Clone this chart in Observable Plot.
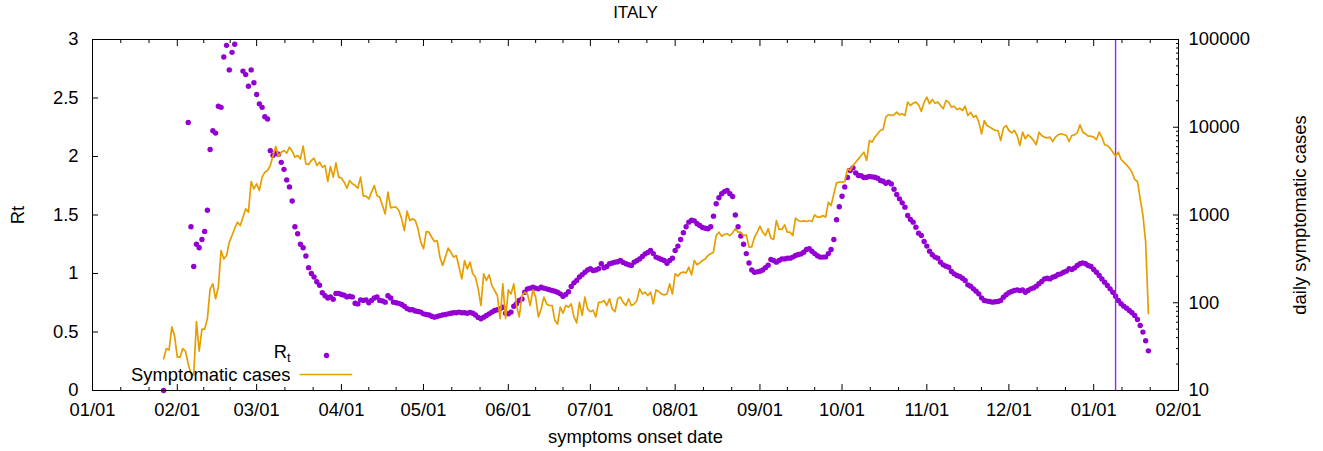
<!DOCTYPE html>
<html><head><meta charset="utf-8">
<script src="https://cdn.jsdelivr.net/npm/d3@7"></script>
<script src="https://cdn.jsdelivr.net/npm/@observablehq/plot@0.6"></script>
<style>
html,body{margin:0;padding:0;background:#fff;}
#chart svg{display:block;}
</style></head><body><div id="chart"></div>
<script>
const chartTitle = "ITALY";
const xLabel = "symptoms onset date";
const yLeftLabel = "Rt";
const yRightLabel = "daily symptomatic cases";
const legendRt = "R_t";
const legendCases = "Symptomatic cases";
const xDomain = ["2020-01-01", "2021-02-01"];
const leftTicks = [0, 0.5, 1, 1.5, 2, 2.5, 3];
const rightTicks = [10, 100, 1000, 10000, 100000];
const markerDates = ["2021-01-09"];

// Rt, one value per day starting 2020-01-27 (null = not shown)
const rtStart = "2020-01-27";
const rtValues = [
  0, null, null, null, null, null, null, null, null, 2.29,
  1.40, 1.06, 1.25, 1.22, 1.29, 1.36, 1.54, 2.06, 2.22, 2.20,
  2.43, 2.42, 2.85, 2.95, 2.74, 2.89, 2.96, null, null, 2.73,
  2.70, 2.60, 2.74, 2.63, 2.53, 2.45, 2.42, 2.34, 2.32, 2.05,
  2.01, 2.03, 2.02, 1.95, 1.89, 1.80, 1.74, 1.62, 1.40, 1.34,
  1.25, 1.22, 1.15, 1.05, 1.00, 0.97, 0.93, 0.90, 0.835, 0.81,
  0.79, 0.80, 0.78, 0.83, 0.83, 0.82, 0.815, 0.80, 0.805, 0.80,
  0.746, 0.74, 0.775, 0.77, 0.775, 0.75, 0.77, 0.79, 0.80, 0.77,
  0.766, 0.755, 0.81, 0.79, 0.755, 0.75, 0.745, 0.735, 0.72, 0.70,
  0.69, 0.69, 0.68, 0.675, 0.67, 0.655, 0.65, 0.645, 0.635, 0.627,
  0.632, 0.64, 0.645, 0.65, 0.655, 0.66, 0.665, 0.665, 0.67, 0.665,
  0.665, 0.66, 0.667, 0.66, 0.645, 0.625, 0.613, 0.627, 0.641, 0.655,
  0.670, 0.684, 0.690, 0.698, 0.712, 0.66, 0.655, 0.67, 0.72, 0.741,
  0.769, 0.783, 0.84, 0.869, 0.875, 0.883, 0.875, 0.869, 0.883, 0.875,
  0.869, 0.862, 0.855, 0.848, 0.840, 0.826, 0.806, 0.82, 0.845, 0.889,
  0.92, 0.94, 0.97, 0.99, 1.011, 1.03, 1.040, 1.026, 1.03, 1.040,
  1.083, 1.049, 1.06, 1.083, 1.09, 1.097, 1.10, 1.111, 1.095, 1.083,
  1.075, 1.068, 1.097, 1.11, 1.125, 1.145, 1.168, 1.18, 1.197, 1.17,
  1.140, 1.131, 1.12, 1.111, 1.088, 1.111, 1.13, 1.197, 1.234, 1.291,
  1.348, 1.40, 1.439, 1.455, 1.45, 1.425, 1.410, 1.393, 1.387, 1.382,
  1.40, 1.49, 1.596, 1.647, 1.681, 1.70, 1.709, 1.681, 1.658, 1.50,
  1.40, 1.32, 1.25, 1.17, 1.09, 1.03, 1.011, 1.014, 1.020, 1.030,
  1.050, 1.070, 1.12, 1.111, 1.097, 1.111, 1.125, 1.125, 1.131, 1.131,
  1.140, 1.154, 1.162, 1.168, 1.182, 1.205, 1.212, 1.19, 1.17, 1.152,
  1.140, 1.140, 1.142, 1.170, 1.205, 1.29, 1.46, 1.57, 1.66, 1.74,
  1.82, 1.88, 1.903, 1.86, 1.838, 1.835, 1.82, 1.823, 1.829, 1.826,
  1.823, 1.815, 1.795, 1.789, 1.772, 1.781, 1.766, 1.72, 1.675, 1.638,
  1.604, 1.567, 1.496, 1.462, 1.439, 1.396, 1.345, 1.325, 1.274, 1.234,
  1.191, 1.160, 1.140, 1.131, 1.097, 1.074, 1.063, 1.054, 1.017, 0.997,
  0.983, 0.974, 0.960, 0.940, 0.903, 0.892, 0.869, 0.849, 0.826, 0.792,
  0.769, 0.764, 0.761, 0.755, 0.758, 0.761, 0.769, 0.798, 0.818, 0.835,
  0.846, 0.855, 0.860, 0.855, 0.860, 0.840, 0.855, 0.869, 0.877, 0.892,
  0.912, 0.932, 0.954, 0.960, 0.954, 0.969, 0.977, 0.991, 0.997, 1.011,
  1.020, 1.040, 1.034, 1.048, 1.068, 1.083, 1.091, 1.083, 1.068, 1.060,
  1.034, 1.011, 0.983, 0.954, 0.926, 0.897, 0.869, 0.840, 0.806, 0.769,
  0.741, 0.721, 0.704, 0.684, 0.664, 0.641, 0.607, 0.556, 0.499, 0.425, 0.339
];

// Daily symptomatic cases, one value per day starting 2020-01-27
const casesStart = "2020-01-27";
const casesValues = [
  23, 30, 29, 53, 42, 24, 24, 30, 28, 20,
  15.5, 15, 61, 28, 50, 50, 66, 144, 164, 111,
  151, 394, 316, 345, 490, 583, 707, 828, 759, 944,
  1175, 1076, 2408, 1987, 2266, 1900, 2700, 3076, 3215, 3664,
  4764, 6039, 4645, 5200, 5433, 5063, 5929, 5336, 4560, 4764,
  4365, 6085, 3828, 3760, 4180, 4440, 3664, 4000, 3510, 3664,
  2410, 3570, 2700, 3935, 2700, 2630, 2367, 2020, 2472, 2266,
  2167, 2020, 2700, 1637, 1637, 1527, 1820, 2167, 1667, 1596,
  1282, 1030, 1820, 1208, 1228, 1228, 1125, 904, 665, 1105,
  865, 904, 865, 696, 490, 412, 648, 637, 558, 499,
  512, 331, 266, 331, 420, 377, 331, 345, 254, 187,
  303, 243, 290, 214, 196, 144, 93, 214, 180, 208,
  157, 138, 121, 66, 164, 66, 140, 126, 164, 93,
  69, 121, 132, 126, 93, 140, 116, 69, 85, 116,
  97, 93, 93, 63, 57, 89, 76, 93, 89, 97,
  69, 59, 101, 72, 116, 85, 79, 82, 69, 101,
  101, 106, 93, 111, 85, 79, 111, 116, 101, 93,
  111, 93, 97, 106, 144, 126, 132, 121, 132, 97,
  140, 134, 126, 123, 126, 164, 126, 214, 201, 219,
  223, 219, 254, 208, 303, 271, 285, 303, 316, 345,
  361, 377, 584, 637, 574, 600, 611, 584, 627, 696,
  637, 637, 584, 594, 430, 434, 558, 637, 745, 637,
  584, 696, 544, 526, 865, 684, 684, 773, 637, 637,
  584, 920, 865, 843, 858, 843, 865, 843, 1005, 944,
  944, 987, 944, 1400, 1282, 1742, 2328, 2367, 2367, 2410,
  3360, 3215, 3664, 4000, 4365, 4764, 5200, 4183, 7060, 6760,
  7710, 8420, 9180, 9420, 13030, 13970, 13610, 13860, 14850, 13860,
  14230, 13610, 19320, 17700, 18790, 19320, 18030, 15130, 19320, 22030,
  18490, 20700, 18790, 19320, 17700, 16220, 20170, 19320, 16940, 17380,
  15930, 16480, 15530, 17380, 13610, 14850, 13030, 13610, 11430, 8420,
  11940, 10470, 10030, 9590, 9180, 9180, 7060, 9760, 10470, 9180,
  8640, 9180, 8050, 6190, 8790, 7380, 8200, 7710, 7060, 6310,
  8790, 8050, 7710, 7580, 7710, 6880, 7710, 8200, 8420, 8260,
  8050, 6880, 8050, 8200, 8640, 10660, 8790, 8420, 7910, 7910,
  7710, 7210, 8790, 7710, 6310, 6190, 5770, 5200, 4690, 5200,
  4290, 4000, 3730, 3420, 3076, 2540, 2410, 1530, 987, 490, 75
];

// ---- build tables ----
const parse = s => new Date(s + "T00:00:00Z");
const rtData = rtValues.map((v, i) => ({date: d3.utcDay.offset(parse(rtStart), i), rt: v}))
  .filter(d => d.rt != null);
const casesData = casesValues.map((v, i) => ({date: d3.utcDay.offset(parse(casesStart), i), cases: v}));

// right log axis (10..100000) mapped onto the left Rt axis (0..3)
const logMin = Math.log10(rightTicks[0]);
const logMax = Math.log10(rightTicks[rightTicks.length - 1]);
const toLeft = v => (Math.log10(v) - logMin) / (logMax - logMin) * 3;
const fromLeft = p => Math.round(10 ** (p / 3 * (logMax - logMin) + logMin));
const rightMajor = rightTicks.map(toLeft);
const rightMinor = [];
for (let e = logMin; e < logMax; e++) for (let k = 2; k <= 9; k++) rightMinor.push(toLeft(k * 10 ** e));

const x0 = parse(xDomain[0]), x1 = parse(xDomain[1]);
const months = d3.utcMonth.range(x0, d3.utcDay.offset(x1, 1));
const minorX = months.slice(0, -1).flatMap(m => {
  const n = d3.utcMonth.offset(m, 1), s = n - m;
  return [new Date(+m + s / 3), new Date(+m + 2 * s / 3)];
});

const PURPLE = "#9400d3", ORANGE = "#e69f00", MARKER = "#a020f0";
const FONT = "18.4px";

const plot = Plot.plot({
  width: 1323, height: 451,
  marginLeft: 92, marginRight: 145, marginTop: 39, marginBottom: 61,
  style: {fontFamily: "'Liberation Sans', Arial, sans-serif", fontSize: FONT, color: "#000", background: "#fff", overflow: "visible"},
  x: {type: "utc", domain: [x0, x1]},
  y: {domain: [0, 3]},
  marks: [
    Plot.axisX(months, {anchor: "bottom", tickSize: -6, tickPadding: 18, tickFormat: d3.utcFormat("%m/%d"), label: null, stroke: "#000", fill: "#000"}),
    Plot.axisX(minorX, {anchor: "bottom", tickSize: -3, tickFormat: () => "", label: null, stroke: "#000"}),
    Plot.axisX(months, {anchor: "top", tickSize: -6, tickFormat: () => "", label: null, stroke: "#000"}),
    Plot.axisX(minorX, {anchor: "top", tickSize: -3, tickFormat: () => "", label: null, stroke: "#000"}),
    Plot.axisY(leftTicks, {anchor: "left", tickSize: -6, tickPadding: 20, tickFormat: d => String(d), label: null, stroke: "#000", fill: "#000"}),
    Plot.axisY(rightMajor, {anchor: "right", tickSize: -6, tickPadding: 16, tickFormat: p => String(fromLeft(p)), label: null, stroke: "#000", fill: "#000"}),
    Plot.axisY(rightMinor, {anchor: "right", tickSize: -3, tickFormat: () => "", label: null, stroke: "#000"}),
    Plot.dot(rtData, {x: "date", y: "rt", r: 2.7, fill: PURPLE, stroke: "none"}),
    Plot.ruleX(markerDates.map(parse), {stroke: MARKER, strokeWidth: 1.4}),
    Plot.line(casesData, {x: "date", y: d => toLeft(d.cases), stroke: ORANGE, strokeWidth: 1.7}),
    Plot.frame({stroke: "#000", strokeWidth: 1}),
    // titles
    Plot.text([chartTitle], {frameAnchor: "top", dy: -27, lineAnchor: "middle", textAnchor: "middle", fontSize: 17, fill: "#000"}),
    Plot.text([xLabel], {frameAnchor: "bottom", dy: 47, lineAnchor: "middle", textAnchor: "middle", fill: "#000"}),
    Plot.text([yLeftLabel], {frameAnchor: "left", dx: -74, rotate: -90, lineAnchor: "middle", textAnchor: "middle", fill: "#000"}),
    Plot.text([yRightLabel], {frameAnchor: "right", dx: 122, rotate: -90, lineAnchor: "middle", textAnchor: "middle", fill: "#000"}),
    // legend
    Plot.text([legendRt], {frameAnchor: "bottom-left", dx: 198, dy: -38, textAnchor: "end", lineAnchor: "middle", fill: "#000"}),
    Plot.dot([0], {frameAnchor: "bottom-left", dx: 234, dy: -35, r: 2.7, fill: PURPLE, stroke: "none"}),
    Plot.text([legendCases], {frameAnchor: "bottom-left", dx: 198, dy: -15, textAnchor: "end", lineAnchor: "middle", fill: "#000"}),
    Plot.vector([0], {frameAnchor: "bottom-left", dx: 208, dy: -16, length: 51, rotate: 90, anchor: "start",
      stroke: ORANGE, strokeWidth: 1.7,
      shape: {draw(ctx, l) { ctx.moveTo(0, 0); ctx.lineTo(0, -l); }}})
  ]
});

// subscript t in the legend label
d3.select(plot).selectAll("text").filter(function() { return this.textContent === legendRt; }).each(function() {
  const t = d3.select(this);
  t.text("R");
  t.append("tspan").attr("dy", "0.3em").attr("font-size", "0.7em").text("t");
});

document.getElementById("chart").appendChild(plot);
</script>
</body></html>
